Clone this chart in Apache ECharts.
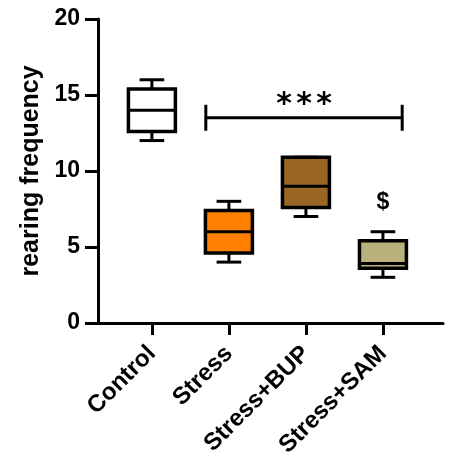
<!DOCTYPE html>
<html>
<head>
<meta charset="utf-8">
<script src="https://cdn.jsdelivr.net/npm/echarts@6/dist/echarts.min.js"></script>
<style>
    html, body { margin: 0; padding: 0; background: #fff; }
    #main { width: 450px; height: 460px; }
</style>
</head>
<body>
<div id="main"></div>
<script>
// groups and box statistics
var groups  = ['Control', 'Stress', 'Stress+BUP', 'Stress+SAM'];
var mins    = [12, 4, 7, 3];
var q1s     = [12.6, 4.6, 7.6, 3.6];
var medians = [14, 6, 9, 3.9];
var q3s     = [15.4, 7.4, 10.9, 5.4];
var maxs    = [16, 8, 10.9, 6];
var fills   = ['#ffffff', '#ff8000', '#9a6624', '#b9b07c'];
var yTicks  = [0, 5, 10, 15, 20];

// significance bracket (x in group units, y in data units)
var sigFrom = 0.7, sigTo = 3.25, sigY = 13.5, sigText = '*';
var dollarGroup = 3, dollarY = 7.9, dollarText = '$';

var font = 'Liberation Sans, Arial, sans-serif';
var black = '#000';

var boxData = groups.map(function (g, i) {
    return [i, mins[i], q1s[i], medians[i], q3s[i], maxs[i]];
});

function renderBox(params, api) {
    var i = api.value(0);
    var unit = api.size([1, 0])[0];
    var bw = unit * 0.61, cw = unit * 0.32;
    var pMin = api.coord([i, api.value(1)]);
    var pQ1 = api.coord([i, api.value(2)]);
    var pMed = api.coord([i, api.value(3)]);
    var pQ3 = api.coord([i, api.value(4)]);
    var pMax = api.coord([i, api.value(5)]);
    var x = pMin[0];
    var st = { stroke: black, lineWidth: 3 };
    return {
        type: 'group',
        children: [
            { type: 'line', shape: { x1: x, y1: pMin[1], x2: x, y2: pQ1[1] }, style: st },
            { type: 'line', shape: { x1: x, y1: pQ3[1], x2: x, y2: pMax[1] }, style: st },
            { type: 'line', shape: { x1: x - cw / 2, y1: pMin[1], x2: x + cw / 2, y2: pMin[1] }, style: st },
            { type: 'line', shape: { x1: x - cw / 2, y1: pMax[1], x2: x + cw / 2, y2: pMax[1] }, style: st },
            {
                type: 'rect',
                shape: { x: x - bw / 2, y: pQ3[1], width: bw, height: pQ1[1] - pQ3[1] },
                style: { fill: fills[params.dataIndex], stroke: black, lineWidth: 3.5 }
            },
            { type: 'line', shape: { x1: x - bw / 2, y1: pMed[1], x2: x + bw / 2, y2: pMed[1] }, style: st }
        ]
    };
}

function renderSig(params, api) {
    var a = api.coord([api.value(0), api.value(2)]);
    var b = api.coord([api.value(1), api.value(2)]);
    var mid = (a[0] + b[0]) / 2;
    var st = { stroke: black, lineWidth: 3 };
    var kids = [
        { type: 'line', shape: { x1: a[0], y1: a[1], x2: b[0], y2: b[1] }, style: st },
        { type: 'line', shape: { x1: a[0], y1: a[1] - 13, x2: a[0], y2: a[1] + 13 }, style: st },
        { type: 'line', shape: { x1: b[0], y1: b[1] - 13, x2: b[0], y2: b[1] + 13 }, style: st }
    ];
    [-20, 0, 20].forEach(function (dx) {
        kids.push({
            type: 'text', x: mid + dx, y: a[1] - 13,
            style: { text: sigText, fill: black, font: 'bold 30px DejaVu Sans, sans-serif', align: 'center', verticalAlign: 'middle' }
        });
    });
    return { type: 'group', children: kids };
}

function renderDollar(params, api) {
    var p = api.coord([api.value(0), api.value(1)]);
    return {
        type: 'text', x: p[0], y: p[1],
        style: { text: dollarText, fill: black, font: 'bold 23px ' + font, align: 'center', verticalAlign: 'middle' }
    };
}

var chart = echarts.init(document.getElementById('main'));
chart.setOption({
    animation: false,
    backgroundColor: '#fff',
    grid: { left: 98, right: 7, top: 19, bottom: 135 },
    xAxis: {
        type: 'value',
        min: -0.7,
        max: 3.78,
        splitLine: { show: false },
        axisLine: { onZero: false, lineStyle: { color: black, width: 3 } },
        axisTick: { customValues: [0, 1, 2, 3], length: 12, lineStyle: { color: black, width: 3 } },
        axisLabel: {
            customValues: [0, 1, 2, 3],
            formatter: function (v) { return groups[Math.round(v)]; },
            rotate: 45,
            margin: 27,
            color: black,
            fontFamily: font,
            fontWeight: 'bold',
            fontSize: 24
        }
    },
    yAxis: {
        type: 'value',
        min: yTicks[0],
        max: yTicks[yTicks.length - 1],
        interval: 5,
        name: 'rearing frequency',
        nameLocation: 'middle',
        nameGap: 52,
        nameTextStyle: { color: black, fontFamily: font, fontWeight: 'bold', fontSize: 25 },
        splitLine: { show: false },
        axisLine: { show: true, onZero: false, lineStyle: { color: black, width: 3 } },
        axisTick: { show: true, length: 13, lineStyle: { color: black, width: 3 } },
        axisLabel: { margin: 18, color: black, fontFamily: font, fontWeight: 'bold', fontSize: 23 }
    },
    series: [
        {
            type: 'custom',
            renderItem: renderBox,
            data: boxData,
            encode: { x: 0, y: [1, 2, 3, 4, 5] },
            z: 3
        },
        {
            type: 'custom',
            renderItem: renderSig,
            data: [[sigFrom, sigTo, sigY]],
            encode: { x: [0, 1], y: 2 },
            z: 4
        },
        {
            type: 'custom',
            renderItem: renderDollar,
            data: [[dollarGroup, dollarY]],
            encode: { x: 0, y: 1 },
            z: 4
        }
    ]
});
</script>
</body>
</html>
